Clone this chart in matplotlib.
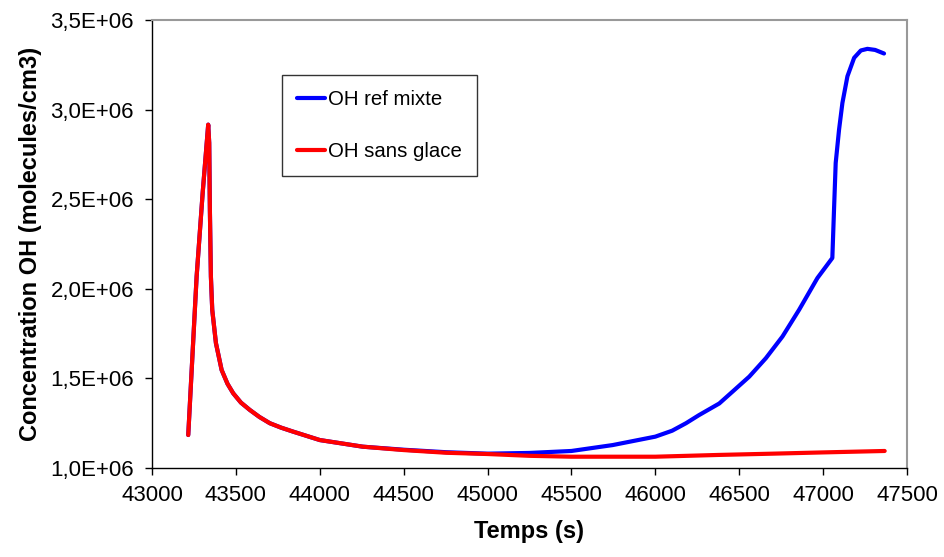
import matplotlib
matplotlib.use("Agg")
import matplotlib.pyplot as plt

plt.rcParams['font.family'] = ['Liberation Sans', 'DejaVu Sans']

# OH sans glace (red)
t_sans = [43216, 43266, 43302, 43335, 43341, 43345, 43351, 43359, 43381, 43415,
          43450, 43484, 43530, 43583, 43640, 43702, 43770, 43841, 44000, 44256,
          44500, 44754, 45000, 45250, 45500, 46000, 46381, 46700, 47000, 47367]
oh_sans = [1.184e6, 2.069e6, 2.535e6, 2.916e6, 2.814e6, 2.441e6, 2.069e6, 1.883e6,
           1.697e6, 1.547e6, 1.470e6, 1.417e6, 1.365e6, 1.324e6, 1.285e6, 1.250e6,
           1.225e6, 1.203e6, 1.156e6, 1.119e6, 1.100e6, 1.085e6, 1.078e6, 1.068e6,
           1.063e6, 1.063e6, 1.073e6, 1.080e6, 1.087e6, 1.095e6]

# OH ref mixte (blue) - same as red until ~44500
t_ref = t_sans[:20] + [44500, 44754, 45000, 45250, 45500, 45746, 46000, 46100,
                       46183, 46260, 46381, 46460, 46560, 46659, 46758, 46857,
                       46966, 47055, 47065, 47075, 47095, 47115, 47145, 47185,
                       47225, 47264, 47310, 47363]
oh_ref = oh_sans[:20] + [1.102e6, 1.088e6, 1.080e6, 1.084e6, 1.095e6, 1.128e6,
                         1.175e6, 1.208e6, 1.250e6, 1.295e6, 1.360e6, 1.426e6,
                         1.510e6, 1.613e6, 1.734e6, 1.883e6, 2.060e6, 2.172e6,
                         2.441e6, 2.702e6, 2.888e6, 3.037e6, 3.186e6, 3.289e6,
                         3.330e6, 3.339e6, 3.333e6, 3.313e6]

xticks = list(range(43000, 47501, 500))
yticks = [1.0e6, 1.5e6, 2.0e6, 2.5e6, 3.0e6, 3.5e6]
ylabels = ['1,0E+06', '1,5E+06', '2,0E+06', '2,5E+06', '3,0E+06', '3,5E+06']

fig = plt.figure(figsize=(9.44, 5.57), dpi=100)
ax = fig.add_axes([152 / 944, 89 / 557, 755 / 944, 448 / 557])

ax.plot(t_ref, oh_ref, color='#0000FF', lw=3, label='OH ref mixte',
        solid_capstyle='round', solid_joinstyle='round')
ax.plot(t_sans, oh_sans, color='#FF0000', lw=3, label='OH sans glace',
        solid_capstyle='round', solid_joinstyle='round')

ax.set_xlim(43000, 47500)
ax.set_ylim(1.0e6, 3.5e6)
ax.set_xticks(xticks)
ax.set_xticklabels([str(x) for x in xticks], fontsize=16)
ax.set_yticks(yticks)
ax.set_yticklabels(ylabels, fontsize=16)
ax.tick_params(direction='out', length=5, width=1, color='black')
ax.tick_params(axis='y', pad=8)
ax.tick_params(axis='x', pad=7)

for side in ['left', 'bottom']:
    ax.spines[side].set_color('black')
    ax.spines[side].set_linewidth(1)
for side in ['top', 'right']:
    ax.spines[side].set_color('#999999')
    ax.spines[side].set_linewidth(1.5)

ax.set_xlabel('Temps (s)', fontsize=17, fontweight='bold', labelpad=10)
ax.set_ylabel('Concentration OH (molecules/cm3)', fontsize=17, fontweight='bold', labelpad=6)

leg = ax.legend(loc='upper left', bbox_to_anchor=(0.172, 0.877), fontsize=14.7,
                frameon=True, fancybox=False, edgecolor='black', handlelength=1.35,
                handletextpad=0.15, labelspacing=1.6, borderpad=0.75, borderaxespad=0)
leg.get_frame().set_linewidth(1)

fig.savefig('out.png', dpi=100)
